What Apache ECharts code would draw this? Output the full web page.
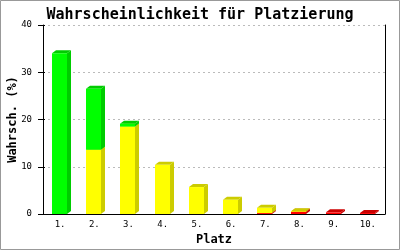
<!DOCTYPE html>
<html>
<head>
<meta charset="utf-8">
<script src="https://cdn.jsdelivr.net/npm/echarts@6/dist/echarts.min.js"></script>
<style>html,body{margin:0;padding:0;background:#fff}#c{width:400px;height:250px}</style>
</head>
<body>
<div id="c"></div>
<script>
const categories = ['1.', '2.', '3.', '4.', '5.', '6.', '7.', '8.', '9.', '10.'];
const redValues = [0, 0, 0, 0, 0, 0, 0.2, 0.45, 0.35, 0.2];
const yellowValues = [0, 13.6, 18.5, 10.4, 5.7, 3.0, 1.1, 0.15, 0, 0];
const greenValues = [34.0, 12.9, 0.6, 0, 0, 0, 0, 0, 0, 0];
const yTicks = [0, 10, 20, 30, 40];

const layers = [
  { name: 'rot', values: redValues, front: '#ff0000', dark: '#cc0000' },
  { name: 'gelb', values: yellowValues, front: '#ffff00', dark: '#cccc00' },
  { name: 'grün', values: greenValues, front: '#00ff00', dark: '#00cc00' }
];

const base = categories.map(() => 0);
const series = layers.map(layer => {
  const data = layer.values.map((v, i) => {
    const b = base[i];
    base[i] += v;
    return [i, b, b + v];
  });
  return {
    type: 'custom',
    name: layer.name,
    xAxisIndex: 0,
    yAxisIndex: 0,
    data: data,
    renderItem: function (params, api) {
      const idx = api.value(0), lo = api.value(1), hi = api.value(2);
      if (!(hi > lo)) return null;
      const pb = api.coord([idx, lo]);
      const pt = api.coord([idx, hi]);
      const band = api.size([1, 0])[0];
      const w = band * 0.44;
      const x0 = Math.round(pb[0] - w / 2 - 0.5);
      const x1 = x0 + Math.round(w);
      const yb = pb[1], yt = pt[1];
      const dx = 4, dy = 3;
      return {
        type: 'group',
        children: [
          { type: 'polygon', shape: { points: [[x1, yb], [x1 + dx, yb - dy], [x1 + dx, yt - dy], [x1, yt]] },
            style: { fill: layer.dark } },
          { type: 'polygon', shape: { points: [[x0, yt], [x1, yt], [x1 + dx, yt - dy], [x0 + dx, yt - dy]] },
            style: { fill: layer.dark } },
          { type: 'rect', shape: { x: x0, y: yt, width: x1 - x0, height: yb - yt },
            style: { fill: layer.front } }
        ]
      };
    }
  };
});

const chart = echarts.init(document.getElementById('c'), null, { renderer: 'canvas' });
const mono = 'DejaVu Sans Mono';
chart.setOption({
  animation: false,
  backgroundColor: '#ffffff',
  title: {
    text: 'Wahrscheinlichkeit für Platzierung',
    left: 'center',
    top: 3,
    textStyle: { fontFamily: mono, fontWeight: 'bold', fontSize: 15, color: '#000' }
  },
  grid: { left: 43, right: 15, top: 25, bottom: 36, containLabel: false, outerBoundsMode: 'none' },
  xAxis: {
    type: 'category',
    data: categories,
    name: 'Platz',
    nameLocation: 'middle',
    nameGap: 20,
    nameMoveOverlap: false,
    nameTextStyle: { fontFamily: mono, fontWeight: 'bold', fontSize: 12, color: '#000' },
    axisLine: { show: true, lineStyle: { color: '#000', width: 1 } },
    axisTick: { show: false },
    axisLabel: { fontFamily: mono, fontSize: 9, color: '#000', margin: 6 },
    splitLine: { show: false }
  },
  yAxis: [
    {
      type: 'value',
      min: yTicks[0],
      max: yTicks[yTicks.length - 1],
      interval: 10,
      name: 'Wahrsch. (%)',
      nameLocation: 'middle',
      nameGap: 24,
      nameMoveOverlap: false,
      nameTextStyle: { fontFamily: mono, fontWeight: 'bold', fontSize: 12, color: '#000' },
      axisLine: { show: true, lineStyle: { color: '#000', width: 1 } },
      axisTick: { show: true, length: 5, lineStyle: { color: '#000' } },
      axisLabel: { fontFamily: mono, fontSize: 9, color: '#000', margin: 11 },
      splitLine: { show: true, lineStyle: { color: '#bbbbbb', type: [2, 3], width: 1 } }
    },
    {
      type: 'value',
      position: 'left',
      min: 0, max: 40, interval: 10,
      axisLine: { show: false },
      axisTick: { show: true, inside: true, length: 2, lineStyle: { color: '#000' } },
      axisLabel: { show: false },
      splitLine: { show: false }
    },
    {
      type: 'value',
      position: 'right',
      min: 0, max: 40, interval: 10,
      axisLine: { show: true, lineStyle: { color: '#000', width: 1 } },
      axisTick: { show: false },
      axisLabel: { show: false },
      splitLine: { show: false }
    }
  ],
  graphic: [
    { type: 'rect', shape: { x: 0.5, y: 0.5, width: 399, height: 249 },
      style: { fill: null, stroke: '#999999', lineWidth: 1 }, silent: true, z: 100 }
  ],
  series: series
});
</script>
</body>
</html>
